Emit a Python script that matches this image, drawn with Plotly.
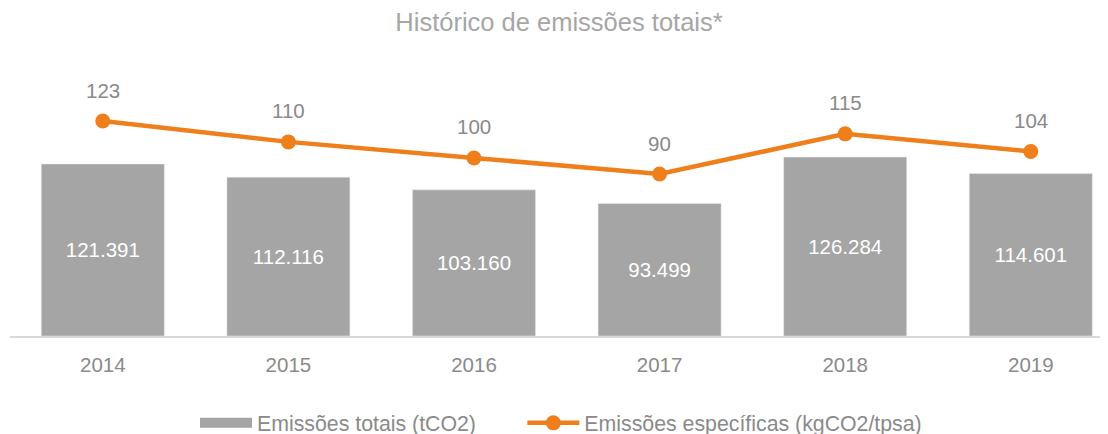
import plotly.graph_objects as go

anos = ['2014', '2015', '2016', '2017', '2018', '2019']
emissoes_totais = [121391, 112116, 103160, 93499, 126284, 114601]
emissoes_especificas = [123, 110, 100, 90, 115, 104]

cinza = '#A5A5A5'
laranja = '#EE7F1B'
texto = '#8A8A8A'
fonte = 'Liberation Sans, Arial, sans-serif'

fig = go.Figure()

fig.add_trace(go.Bar(
    x=anos, y=emissoes_totais,
    name='Emissões totais (tCO2)',
    marker=dict(color=cinza),
    texttemplate='%{y:,.0f}',
    textposition='inside',
    insidetextanchor='middle',
    textfont=dict(color='white', size=20.5, family=fonte),
    showlegend=False,
))

# entrada de legenda com retângulo largo para as barras
fig.add_trace(go.Scatter(
    x=[None], y=[None], mode='lines',
    name='Emissões totais (tCO2)' + '\u00a0' * 7,
    line=dict(color=cinza, width=12),
))

fig.add_trace(go.Scatter(
    x=anos, y=emissoes_especificas,
    name='Emissões específicas (kgCO2/tpsa)',
    mode='lines+markers',
    line=dict(color=laranja, width=4.5),
    marker=dict(color=laranja, size=15),
    yaxis='y2',
))

# rótulos da linha (x pelo índice da categoria)
for i, v in enumerate(emissoes_especificas):
    fig.add_annotation(x=i, y=v, xref='x', yref='y2', text=str(v), showarrow=False,
                       yshift=31, font=dict(color=texto, size=20.5, family=fonte))

eixo_oculto = dict(showgrid=False, showline=False, zeroline=False,
                   showticklabels=False, ticks='')

fig.update_layout(
    width=1100, height=426,
    margin=dict(l=2, r=0, t=52, b=98, autoexpand=False),
    paper_bgcolor='white', plot_bgcolor='white',
    separators=',.',
    bargap=0.337,
    font=dict(family=fonte, color=texto, size=20),
    title=dict(text='Histórico de emissões totais*', x=551 / 1100, xref='container',
               xanchor='center', y=1 - 14 / 426, yanchor='middle',
               font=dict(size=25.5, color='#A6A6A6', family=fonte)),
    xaxis=dict(type='category', range=[-0.5, 5.416], showgrid=False, showline=True,
               linecolor='#D9D9D9', linewidth=2, ticks='', ticklabelstandoff=9,
               tickfont=dict(size=20.5, color=texto)),
    yaxis=dict(range=[0, 194778], **eixo_oculto),
    yaxis2=dict(range=[-10.9, 161], overlaying='y', side='right', **eixo_oculto),
    legend=dict(orientation='h', x=187 / 1100, xanchor='left', xref='container',
                y=1 - 415 / 426, yanchor='middle', yref='container',
                itemwidth=52,
                font=dict(size=21.3, color=texto)),
    showlegend=True,
)

fig.write_html('out.html')
